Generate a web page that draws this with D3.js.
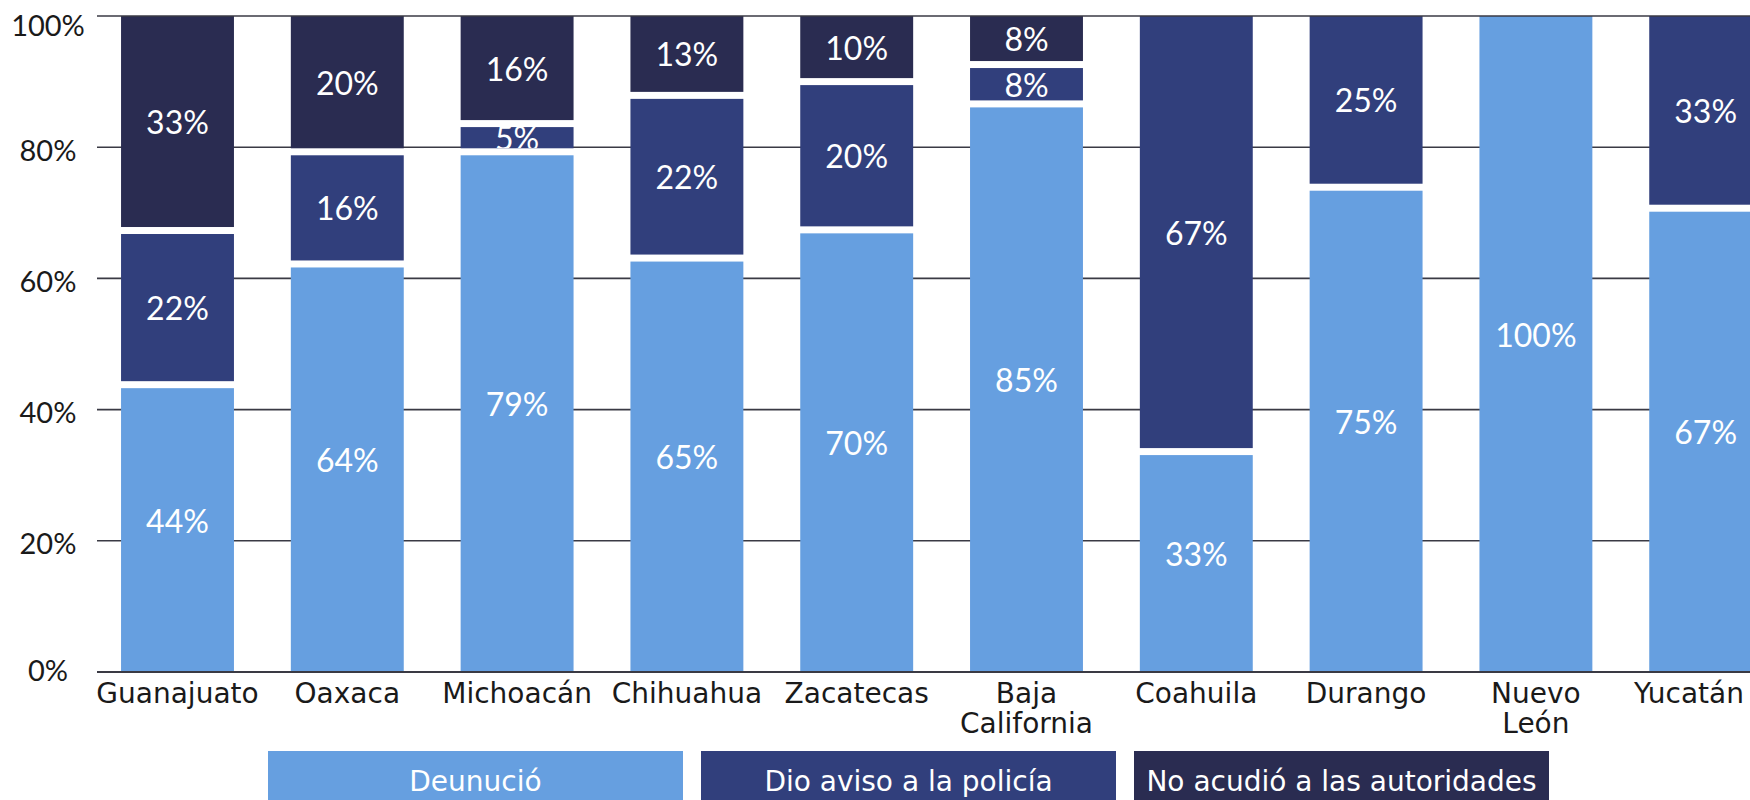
<!DOCTYPE html>
<html>
<head>
<meta charset="utf-8">
<script src="https://cdn.jsdelivr.net/npm/d3@7"></script>
<style>
  html, body { margin: 0; padding: 0; background: #ffffff; overflow: hidden; }
  svg { display: block; }
</style>
</head>
<body>
<svg id="chart" width="1750" height="800"></svg>
<script>
// ---- DATA ----
const categories = ["Guanajuato", "Oaxaca", "Michoacán", "Chihuahua", "Zacatecas",
                    "Baja California", "Coahuila", "Durango", "Nuevo León", "Yucatán"];
const categoryLines = [["Guanajuato"], ["Oaxaca"], ["Michoacán"], ["Chihuahua"], ["Zacatecas"],
                       ["Baja", "California"], ["Coahuila"], ["Durango"], ["Nuevo", "León"], ["Yucatán"]];
const seriesNames = ["Deunució", "Dio aviso a la policía", "No acudió a las autoridades"];
// segment heights as drawn (percent)
const denuncio = [43.8, 62.2, 79.3, 63.1, 67.4, 86.6, 33.6, 73.9, 100, 70.7];
const avisoPolicia = [23.5, 17.1, 4.3, 24.8, 22.6, 6.0, 66.4, 26.1, 0, 29.3];
const noAcudio = [32.7, 20.7, 16.4, 12.1, 10.0, 7.4, 0, 0, 0, 0];
// printed labels
const denuncioLabels = ["44%", "64%", "79%", "65%", "70%", "85%", "33%", "75%", "100%", "67%"];
const avisoLabels = ["22%", "16%", "5%", "22%", "20%", "8%", "67%", "25%", "", "33%"];
const noAcudioLabels = ["33%", "20%", "16%", "13%", "10%", "8%", "", "", "", ""];
const yTicks = [0, 20, 40, 60, 80, 100];
const yTickLabels = ["0%", "20%", "40%", "60%", "80%", "100%"];

// ---- STYLE ----
const colors = ["#669fe0", "#313f7c", "#2a2c51"];
const keys = ["denuncio", "aviso", "noAcudio"];
const labelSets = [denuncioLabels, avisoLabels, noAcudioLabels];

const rows = categories.map((c, i) => ({
  cat: c, i: i, denuncio: denuncio[i], aviso: avisoPolicia[i], noAcudio: noAcudio[i]
}));

const svg = d3.select("#chart");

const x = d3.scaleBand().domain(categories).range([92.6, 1790.6])
  .paddingInner(0.335).paddingOuter(0.1675);
const y = d3.scaleLinear().domain([0, 100]).range([672, 16]);

// gridlines (behind)
const grid = svg.append("g");
grid.selectAll("line").data(yTicks.filter(t => t !== 0 && t !== 100)).join("line")
  .attr("x1", 97).attr("x2", 1750)
  .attr("y1", d => y(d)).attr("y2", d => y(d))
  .attr("stroke", "#3a3a44").attr("stroke-width", 1.6);

// y tick labels
svg.append("g").selectAll("text").data(yTicks).join("text")
  .attr("x", 48)
  .attr("y", d => Math.min(Math.max(y(d) + 2, 24), 669))
  .attr("text-anchor", "middle")
  .attr("dominant-baseline", "central")
  .attr("font-family", "Lato, 'Open Sans', sans-serif")
  .attr("font-size", 29)
  .attr("fill", "#1a1a1a")
  .text((d, i) => yTickLabels[i]);

// stacked bars
const stack = d3.stack().keys(keys);
const series = stack(rows);
const gap = 7;
const defs = svg.append("defs");
const barsG = svg.append("g");

series.forEach((s, si) => {
  s.forEach((seg, ci) => {
    const v0 = seg[0], v1 = seg[1];
    if (v1 - v0 <= 0) return;
    const top = y(v1) + (v1 >= 99.9 ? 0 : gap / 2);
    const bot = y(v0) - (v0 <= 0.01 ? 0 : gap / 2);
    const bx = x(categories[ci]);
    const bw = x.bandwidth();
    barsG.append("rect")
      .attr("x", bx).attr("y", top)
      .attr("width", bw).attr("height", bot - top)
      .attr("fill", colors[si]);
    const label = labelSets[si][ci];
    if (label) {
      const id = "clip-" + si + "-" + ci;
      defs.append("clipPath").attr("id", id).append("rect")
        .attr("x", bx).attr("y", top).attr("width", bw).attr("height", bot - top);
      const shift = si === 0 ? -10 : 0;
      barsG.append("text")
        .attr("clip-path", "url(#" + id + ")")
        .attr("x", bx + bw / 2)
        .attr("y", (top + bot) / 2 + shift)
        .attr("text-anchor", "middle")
        .attr("dominant-baseline", "central")
        .attr("font-family", "Lato, 'Open Sans', sans-serif")
        .attr("font-size", 32)
        .attr("fill", "#ffffff")
        .text(label);
    }
  });
});

// 0% and 100% lines on top
svg.append("g").selectAll("line").data([0, 100]).join("line")
  .attr("x1", 97).attr("x2", 1750)
  .attr("y1", d => y(d)).attr("y2", d => y(d))
  .attr("stroke", "#3a3a44").attr("stroke-width", d => d === 0 ? 2.2 : 1.6);

// x labels
const xl = svg.append("g").selectAll("text").data(categories).join("text")
  .attr("text-anchor", "middle")
  .attr("font-family", "'DejaVu Sans', sans-serif")
  .attr("font-size", 28)
  .attr("fill", "#1a1a1a")
  .attr("transform", d => "translate(" + (x(d) + x.bandwidth() / 2) + ",0)");
xl.each(function(d, i) {
  const t = d3.select(this);
  categoryLines[i].forEach((line, li) => {
    t.append("tspan").attr("x", 0).attr("y", 703 + li * 30).text(line);
  });
  const bb = this.getBBox();
  const cx = x(d) + x.bandwidth() / 2;
  const right = cx + bb.x + bb.width;
  if (right > 1744) {
    t.attr("transform", "translate(" + (cx - (right - 1744)) + ",0)");
  }
});

// legend
const lx = d3.scaleBand().domain(seriesNames).range([268, 1549]).paddingInner(0.0416);
const lg = svg.append("g").selectAll("g").data(seriesNames).join("g")
  .attr("transform", d => "translate(" + lx(d) + ",751)");
lg.append("rect")
  .attr("width", lx.bandwidth()).attr("height", 60)
  .attr("fill", (d, i) => colors[i]);
lg.append("text")
  .attr("x", lx.bandwidth() / 2).attr("y", 30)
  .attr("text-anchor", "middle")
  .attr("dominant-baseline", "central")
  .attr("font-family", "'DejaVu Sans', sans-serif")
  .attr("font-size", 28)
  .attr("fill", "#ffffff")
  .text(d => d);
</script>
</body>
</html>
